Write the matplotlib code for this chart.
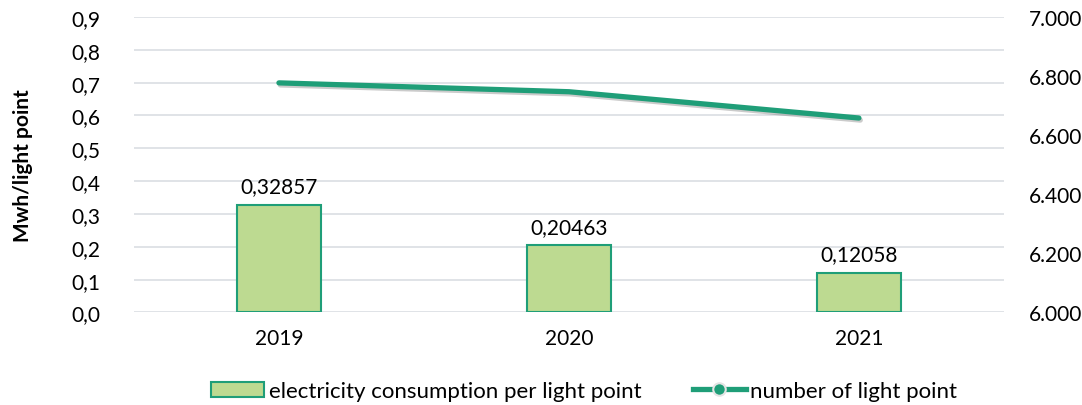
import matplotlib
matplotlib.use("Agg")
import matplotlib.pyplot as plt
import matplotlib.patheffects as pe
from matplotlib.lines import Line2D
from matplotlib.patches import Patch
from matplotlib.ticker import FuncFormatter, MultipleLocator

plt.rcParams['font.family'] = ['Lato', 'DejaVu Sans']

years = ['2019', '2020', '2021']
consumption = [0.32857, 0.20463, 0.12058]
light_points = [6777, 6747, 6658]

bar_fill = '#BDDA91'
green = '#1F9E78'
grid_col = '#DDE1E5'
fs = 15

fig = plt.figure(figsize=(10.82, 4.06), dpi=100)
ax = fig.add_axes([0.1238, 0.228, 0.804, 0.7277])
ax2 = ax.twinx()

x = range(len(years))
ax.bar(x, consumption, width=0.29, color=bar_fill, edgecolor=green, linewidth=1.5, zorder=2)
for xi, v in zip(x, consumption):
    ax.annotate(f"{v:.5f}".replace('.', ','), (xi, v), xytext=(0, 6), textcoords='offset points',
                ha='center', va='bottom', fontsize=fs, color='#000000')

ax.set_ylim(0, 0.9)
ax.set_xlim(-0.5, 2.5)
ax.yaxis.set_major_locator(MultipleLocator(0.1))
ax.yaxis.set_major_formatter(FuncFormatter(lambda v, p: f"{v:.1f}".replace('.', ',')))
ax.set_xticks(list(x))
ax.set_xticklabels(years)
ax.grid(axis='y', color=grid_col, linewidth=1.3, zorder=0)
ax.set_axisbelow(True)
ax.set_ylabel('Mwh/light point', fontsize=fs, fontweight='bold', labelpad=28)

ax2.plot(list(x), light_points, color=green, linewidth=3.8, solid_capstyle='round', zorder=3,
         path_effects=[pe.SimpleLineShadow(offset=(1, -1.5), shadow_color='#555555', alpha=0.3),
                       pe.Normal()])
ax2.set_ylim(6000, 7000)
ax2.yaxis.set_major_locator(MultipleLocator(200))
ax2.yaxis.set_major_formatter(FuncFormatter(lambda v, p: f"{int(v):,}".replace(',', '.')))

for a in (ax, ax2):
    for s in a.spines.values():
        s.set_visible(False)
    a.tick_params(length=0, labelsize=fs, colors='#000000')
ax.tick_params(axis='y', pad=24)
ax.tick_params(axis='x', pad=11)
ax2.tick_params(axis='y', pad=18)

handles = [Patch(facecolor=bar_fill, edgecolor=green, linewidth=1.5),
           Line2D([0], [0], color=green, linewidth=3.8, marker='o', markersize=9,
                  markerfacecolor=green, markeredgecolor='#E4E4E4', markeredgewidth=1.5)]
fig.legend(handles, ['electricity consumption per light point', 'number of light point'],
           loc='center', bbox_to_anchor=(0.54, 0.034), ncol=2, frameon=False,
           fontsize=16, handlelength=2.4, handletextpad=0.2, columnspacing=2.3)

fig.savefig('out.png', dpi=100)
